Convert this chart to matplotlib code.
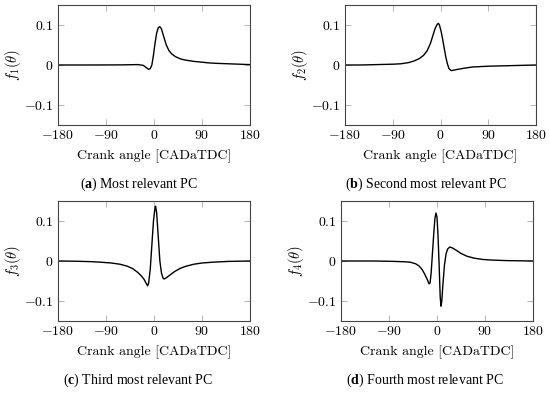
import matplotlib
matplotlib.use('Agg')
import matplotlib.pyplot as plt

plt.rcParams['font.family'] = 'serif'
plt.rcParams['font.serif'] = ['cmr10']
plt.rcParams['mathtext.fontset'] = 'cm'
plt.rcParams['mathtext.bf'] = 'Liberation Serif:bold'
plt.rcParams['mathtext.rm'] = 'Liberation Serif'

# crank angle samples and principal component shapes
theta_1 = [-180, -120, -60, -40, -30, -20, -14, -10, -7, -4, -1, 2, 5, 8, 11, 14, 18,
           23, 28, 33, 40, 50, 60, 75, 90, 105, 120, 140, 160, 180]
f_1 = [0, 0, 0.0003, 0.0008, 0.001, -0.001, -0.007, -0.011, -0.009, 0.0, 0.025, 0.055,
       0.08, 0.093, 0.096, 0.090, 0.072, 0.050, 0.036, 0.028, 0.021, 0.015, 0.012, 0.009,
       0.007, 0.005, 0.004, 0.003, 0.002, 0.001]

theta_2 = [-180, -150, -120, -90, -75, -60, -50, -40, -32, -25, -19, -14, -10, -6, -4, -2,
           1, 4, 7, 10, 13, 16, 20, 25, 32, 45, 60, 90, 120, 150, 180]
f_2 = [0, 0, 0.001, 0.002, 0.003, 0.006, 0.010, 0.016, 0.024, 0.036, 0.054, 0.075, 0.092,
       0.102, 0.104, 0.100, 0.085, 0.065, 0.042, 0.020, 0.003, -0.009, -0.014, -0.013,
       -0.011, -0.008, -0.005, -0.003, -0.002, -0.001, 0]

theta_3 = [-180, -150, -120, -100, -80, -64, -50, -40, -30, -24, -19, -15, -12, -10, -7,
           -4, -1, 2, 3, 5, 8, 11, 14, 17, 19, 23, 29, 38, 48, 60, 75, 90, 110, 140, 180]
f_3 = [0, -0.0005, -0.0015, -0.003, -0.005, -0.008, -0.013, -0.019, -0.029, -0.037, -0.045,
       -0.055, -0.062, -0.055, -0.020, 0.040, 0.100, 0.135, 0.137, 0.120, 0.060, 0.000,
       -0.030, -0.043, -0.045, -0.042, -0.036, -0.027, -0.019, -0.013, -0.008, -0.005,
       -0.003, -0.001, 0]

theta_4 = [-180, -120, -80, -60, -50, -40, -34, -28, -23, -18, -15, -13, -11, -9, -6, -4,
           -2, 0, 2, 4, 6, 7.5, 9, 11, 14, 17, 20, 24, 30, 37, 45, 56, 70, 85, 100, 130, 180]
f_4 = [0, 0, -0.001, -0.002, -0.003, -0.007, -0.012, -0.021, -0.033, -0.047, -0.057, -0.055,
       -0.030, 0.010, 0.070, 0.105, 0.120, 0.110, 0.060, -0.010, -0.090, -0.113, -0.100,
       -0.060, -0.010, 0.018, 0.030, 0.035, 0.032, 0.026, 0.019, 0.012, 0.007, 0.004,
       0.0025, 0.001, 0]

x_ticks = [-180, -90, 0, 90, 180]
x_ticklabels = ['$-180$', '$-90$', '$0$', '$90$', '$180$']
y_ticks = [-0.1, 0, 0.1]
y_ticklabels = ['$-0.1$', '$0$', '$0.1$']
y_labels = [r'$f_1(\theta)$', r'$f_2(\theta)$', r'$f_3(\theta)$', r'$f_4(\theta)$']
captions = ['a', 'b', 'c', 'd']
caption_texts = ['Most relevant PC', 'Second most relevant PC',
                 'Third most relevant PC', 'Fourth most relevant PC']

series = [(theta_1, f_1), (theta_2, f_2), (theta_3, f_3), (theta_4, f_4)]

# axes boxes in pixels (left, top, right, bottom) -> figure fractions
W, H = 550, 393
boxes = [(58, 5, 250, 125), (345, 5, 536, 125), (58, 201, 250, 321), (341, 201, 533, 321)]
caption_x = [139, 426, 138, 425]
caption_y = [184, 184, 380, 380]

fig = plt.figure(figsize=(5.5, 3.93), dpi=100)

for i, (th, f) in enumerate(series):
    l, t, r, b = boxes[i]
    ax = fig.add_axes([l / W, 1 - b / H, (r - l) / W, (b - t) / H])
    ax.plot(th, f, color='black', lw=1.0)
    ax.set_xlim(-180, 180)
    ax.set_ylim(-0.15, 0.15)
    ax.set_xticks(x_ticks)
    ax.set_xticklabels(x_ticklabels)
    ax.set_yticks(y_ticks)
    ax.set_yticklabels(y_ticklabels)
    ax.tick_params(direction='in', top=True, right=True, length=4, width=0.6,
                   color='#aaaaaa', labelsize=10, pad=3)
    for s in ax.spines.values():
        s.set_color('#444444')
        s.set_linewidth(0.8)
    ax.set_xlabel('Crank angle [CADaTDC]', fontsize=10, labelpad=5)
    ax.set_ylabel(y_labels[i], fontsize=10.5, labelpad=1)
    fig.text(caption_x[i] / W, 1 - caption_y[i] / H,
             r'($\mathbf{' + captions[i] + r'}$) ' + caption_texts[i],
             ha='center', va='center', fontsize=10, family='Liberation Serif',
             math_fontfamily='custom')

fig.savefig('out.png', dpi=100)
